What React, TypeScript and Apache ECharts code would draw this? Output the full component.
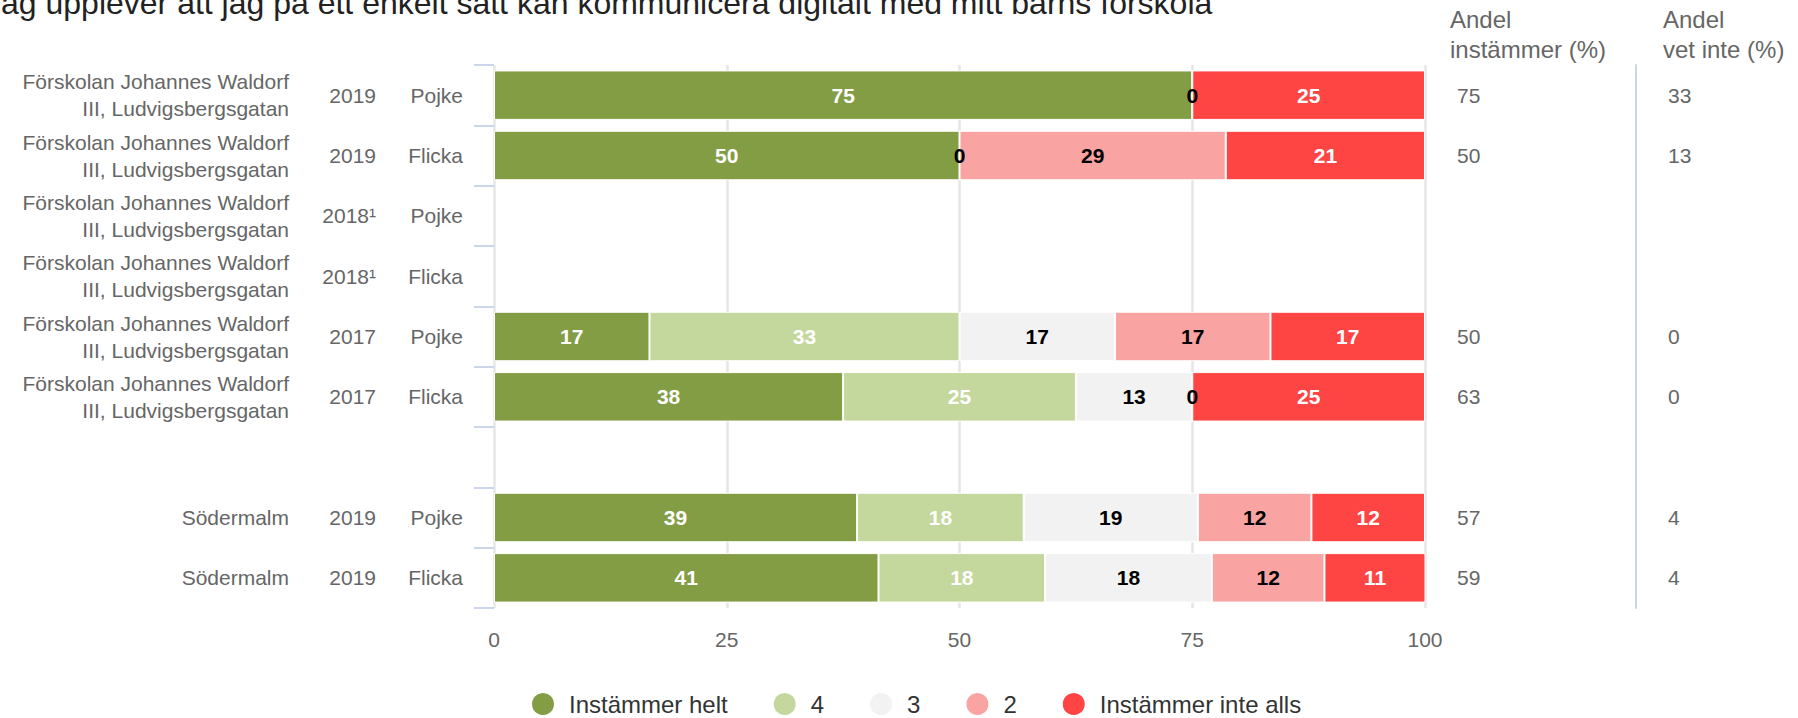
import React, { useEffect, useRef } from 'react';
import * as echarts from 'echarts';

const titleText = 'Jag upplever att jag på ett enkelt sätt kan kommunicera digitalt med mitt barns förskola';

const schools = [
  'Förskolan Johannes Waldorf\nIII, Ludvigsbergsgatan',
  'Förskolan Johannes Waldorf\nIII, Ludvigsbergsgatan',
  'Förskolan Johannes Waldorf\nIII, Ludvigsbergsgatan',
  'Förskolan Johannes Waldorf\nIII, Ludvigsbergsgatan',
  'Förskolan Johannes Waldorf\nIII, Ludvigsbergsgatan',
  'Förskolan Johannes Waldorf\nIII, Ludvigsbergsgatan',
  '',
  'Södermalm',
  'Södermalm',
];
const years = ['2019', '2019', '2018¹', '2018¹', '2017', '2017', '', '2019', '2019'];
const genders = ['Pojke', 'Flicka', 'Pojke', 'Flicka', 'Pojke', 'Flicka', '', 'Pojke', 'Flicka'];

const seriesNames = ['Instämmer helt', '4', '3', '2', 'Instämmer inte alls'];
const helt = [75, 50, null, null, 16.7, 37.5, null, 39.0, 41.3];
const fyra = [null, null, null, null, 33.3, 25, null, 17.9, 17.9];
const tre = [null, 0, null, null, 16.7, 12.5, null, 18.7, 17.9];
const tva = [0, 28.6, null, null, 16.7, 0, null, 12.2, 12.1];
const inteAlls = [25, 21.4, null, null, 16.6, 25, null, 12.2, 10.9];

const andelInstammer = ['75', '50', '', '', '50', '63', '', '57', '59'];
const andelVetInte = ['33', '13', '', '', '0', '0', '', '4', '4'];

const xTicks = [0, 25, 50, 75, 100];

const colors = ['#839D45', '#C4D79C', '#F2F2F2', '#FAA3A3', '#FF4444'];
const labelColors = ['#ffffff', '#ffffff', '#000000', '#000000', '#ffffff'];

const FONT = '"Liberation Sans", Arial, Helvetica, sans-serif';

export default function App() {
  const ref = useRef<HTMLDivElement>(null);
  useEffect(() => {
    document.body.style.margin = '0';
    const chart = echarts.init(ref.current!, null, { renderer: 'svg' });
    const idx = genders.map((_, i) => String(i));
    const hiddenAxis = {
      type: 'category' as const,
      data: idx,
      inverse: true,
      axisLine: { show: false },
      axisTick: { show: false },
      splitLine: { show: false },
    };
    const values = [helt, fyra, tre, tva, inteAlls];
    chart.setOption({
      animation: false,
      textStyle: { fontFamily: FONT },
      grid: { left: 494, right: 373, top: 65, bottom: 110, containLabel: false, outerBoundsMode: 'none' },
      xAxis: {
        type: 'value',
        min: xTicks[0],
        max: xTicks[xTicks.length - 1],
        interval: 25,
        axisLine: { show: false },
        axisTick: { show: false },
        splitLine: { show: true, lineStyle: { color: '#e6e6e6', width: 2.5 } },
        axisLabel: { fontSize: 21, color: '#666666', margin: 21, fontFamily: FONT },
      },
      yAxis: [
        {
          ...hiddenAxis,
          position: 'left',
          axisTick: { show: true, length: 20, lineStyle: { color: '#ccd6eb', width: 2 } },
          axisLabel: {
            margin: 31,
            fontSize: 21,
            color: '#666666',
            fontFamily: FONT,
            formatter: (_v: string, i: number) => genders[i],
          },
        },
        {
          ...hiddenAxis,
          position: 'left',
          axisLabel: {
            margin: 118,
            fontSize: 21,
            color: '#666666',
            fontFamily: FONT,
            formatter: (_v: string, i: number) => years[i],
          },
        },
        {
          ...hiddenAxis,
          position: 'left',
          axisLabel: {
            margin: 205,
            fontSize: 21,
            lineHeight: 27,
            color: '#666666',
            fontFamily: FONT,
            formatter: (_v: string, i: number) => schools[i],
          },
        },
        {
          ...hiddenAxis,
          position: 'right',
          axisLabel: {
            margin: 32,
            fontSize: 21,
            color: '#666666',
            fontFamily: FONT,
            formatter: (_v: string, i: number) => andelInstammer[i],
          },
        },
        {
          ...hiddenAxis,
          position: 'right',
          offset: 211,
          axisLine: { show: true, lineStyle: { color: '#ccd6eb', width: 2 } },
          axisLabel: {
            margin: 32,
            fontSize: 21,
            color: '#666666',
            fontFamily: FONT,
            formatter: (_v: string, i: number) => andelVetInte[i],
          },
        },
      ],
      legend: {
        left: 530,
        top: 691,
        padding: 0,
        icon: 'circle',
        itemWidth: 24,
        itemHeight: 24,
        itemGap: 44,
        data: seriesNames,
        textStyle: { fontSize: 24, color: '#333333', fontFamily: FONT, padding: [0, 0, 0, 9] },
      },
      graphic: [
        {
          type: 'text',
          x: -15,
          y: 3,
          style: {
            text: titleText,
            font: `32px ${FONT}`,
            fill: '#222222',
            textAlign: 'left',
            textVerticalAlign: 'middle',
          },
        },
        {
          type: 'text',
          x: 1450,
          y: 34,
          style: {
            text: 'Andel\ninstämmer (%)',
            font: `24px ${FONT}`,
            lineHeight: 30,
            fill: '#666666',
            textAlign: 'left',
            textVerticalAlign: 'middle',
          },
        },
        {
          type: 'text',
          x: 1663,
          y: 34,
          style: {
            text: 'Andel\nvet inte (%)',
            font: `24px ${FONT}`,
            lineHeight: 30,
            fill: '#666666',
            textAlign: 'left',
            textVerticalAlign: 'middle',
          },
        },
      ],
      series: seriesNames.map((name, s) => ({
        name,
        type: 'bar',
        stack: 'total',
        yAxisIndex: 0,
        barCategoryGap: '18%',
        data: values[s],
        itemStyle: { color: colors[s], borderColor: '#ffffff', borderWidth: 1 },
        label: {
          show: true,
          position: 'inside',
          color: labelColors[s],
          fontSize: 21,
          fontWeight: 'bold',
          fontFamily: FONT,
          formatter: (p: any) => (p.value == null ? '' : String(Math.round(p.value))),
        },
      })),
    });
    return () => chart.dispose();
  }, []);
  return <div ref={ref} style={{ width: 1798, height: 718 }} />;
}
